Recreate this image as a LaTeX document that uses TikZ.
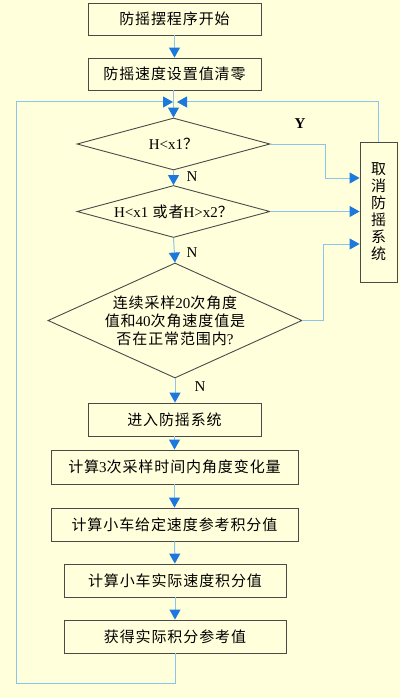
\documentclass[tikz,border=0pt]{standalone}
\usepackage{fontspec}
\setmainfont{Liberation Serif}
\newfontfamily\cjk[LetterSpace=6]{Noto Sans CJK SC}
\usetikzlibrary{arrows.meta,shapes.geometric}
\definecolor{bg}{HTML}{FFFFDC}
\definecolor{ln}{HTML}{8CC4EC}
\definecolor{ah}{HTML}{1C78DC}
\definecolor{bd}{HTML}{4A4A4A}
\newcommand{\lat}[1]{{\rmfamily #1}}
\begin{document}
\begin{tikzpicture}[x=1pt,y=-1pt,
  box/.style={draw=bd, line width=0.9pt, inner sep=0pt, font=\fontsize{15}{18}\selectfont\cjk},
  dia/.style={draw=bd, line width=0.9pt, diamond, inner sep=0pt, font=\fontsize{15}{18}\selectfont\cjk},
  flow/.style={draw=ln, line width=1pt, -{Triangle[width=11pt,length=10pt,color=ah,fill=ah]}},
  plain/.style={draw=ln, line width=1pt},
  lab/.style={font=\fontsize{15}{18}\selectfont\rmfamily, inner sep=0pt}]
\fill[bg] (0,0) rectangle (400,698);
\useasboundingbox (0,0) rectangle (400,698);

\node[box, minimum width=173pt, minimum height=32pt] (b1) at (174.5,19) {防摇摆程序开始};
\node[box, minimum width=173pt, minimum height=32pt] (b2) at (174.5,74) {防摇速度设置值清零};
\node[dia, minimum width=193pt, minimum height=52pt, aspect=3.7] (d1) at (173.5,144) {\lat{H<x1}？};
\node[dia, minimum width=193pt, minimum height=52pt, aspect=3.7] (d2) at (173.5,211.5) {\lat{H<x1} 或者\lat{H>x2}？};
\node[dia, minimum width=254pt, minimum height=115pt, aspect=2.2, inner sep=-3pt, align=center, font=\fontsize{15}{18}\selectfont\cjk] (d3) at (175,320.5) {连续采样\lat{20}次角度\\值和\lat{40}次角速度值是\\否在正常范围内\lat{?}};
\node[box, minimum width=173pt, minimum height=33pt] (b3) at (174.5,419.5) {进入防摇系统};
\node[box, minimum width=247pt, minimum height=34pt] (b4) at (174.5,467) {计算\lat{3}次采样时间内角度变化量};
\node[box, minimum width=247pt, minimum height=33pt] (b5) at (174.5,524.5) {计算小车给定速度参考积分值};
\node[box, minimum width=222pt, minimum height=33pt] (b6) at (175,580.5) {计算小车实际速度积分值};
\node[box, minimum width=222pt, minimum height=33pt] (b7) at (175,636.5) {获得实际积分参考值};
\node[box, minimum width=37pt, minimum height=140pt, align=center, font=\fontsize{15}{17}\selectfont\cjk] (sb) at (378.5,212) {取\\消\\防\\摇\\系\\统};

\node[lab] (ly) at (300,124) {\textbf{Y}};
\node[lab] (n1) at (192,177) {N};
\node[lab] (n2) at (192,253) {N};
\node[lab] (n3) at (200,387) {N};

\coordinate (jl) at (173,102);
\coordinate (jr) at (177,102);
\coordinate (k1) at (325,178);
\coordinate (k3) at (323,244);
\coordinate (lb) at (16,683);

\draw[flow] (b1) -- (b2);
\draw[flow] (b2.south -| d1.north) -- (d1.north);
\draw[flow] (d1) -- (d2);
\draw[flow] (d2.south) -- (d3.north);
\draw[flow] (d3.south) -- (b3.north -| d3.south);
\draw[flow] (b3) -- (b4);
\draw[flow] (b4) -- (b5);
\draw[flow] (b5) -- (b6);
\draw[flow] (b6) -- (b7);
\draw[flow] (d1.east) -| (k1) -- (k1 -| sb.west);
\draw[flow] (d2.east) -- (d2.east -| sb.west);
\draw[flow] (d3.east) -| (k3) -- (k3 -| sb.west);
\draw[flow] (sb.north) |- (jr);
\draw[flow] (b7.south) |- (lb) |- (jl);
\end{tikzpicture}
\end{document}
